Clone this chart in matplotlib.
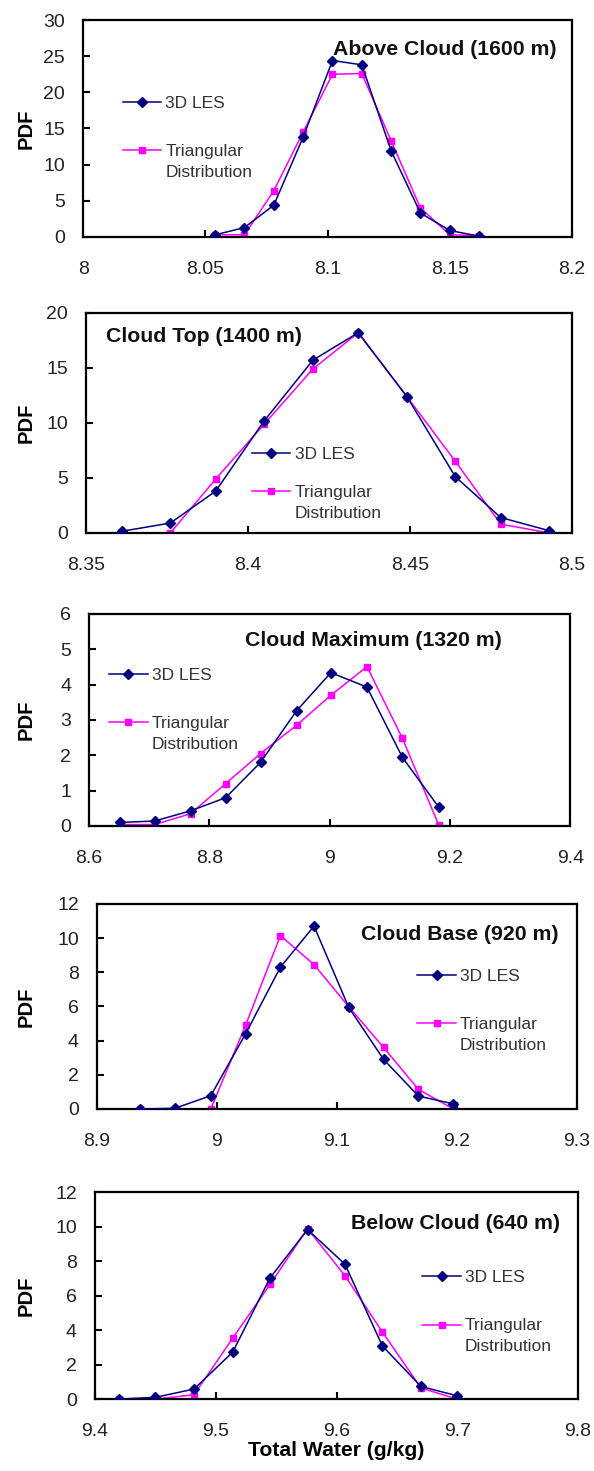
import matplotlib
matplotlib.use("Agg")
import matplotlib.pyplot as plt
from matplotlib.legend_handler import HandlerLine2D

plt.rcParams['font.family'] = ['Liberation Sans', 'DejaVu Sans']

# ---------------- data ----------------
titles = ["Above Cloud (1600 m)", "Cloud Top (1400 m)", "Cloud Maximum (1320 m)",
          "Cloud Base (920 m)", "Below Cloud (640 m)"]

x_above = [8.054, 8.066, 8.078, 8.090, 8.102, 8.114, 8.126, 8.138, 8.150, 8.162]
les_above = [0.3, 1.3, 4.4, 13.8, 24.4, 23.8, 11.9, 3.3, 0.9, 0.1]
tri_above = [0.3, 0.3, 6.4, 14.5, 22.5, 22.6, 13.3, 4.0, 0.3, 0.2]

x_top = [8.361, 8.376, 8.390, 8.405, 8.420, 8.434, 8.449, 8.464, 8.478, 8.493]
les_top = [0.15, 0.9, 3.8, 10.2, 15.7, 18.2, 12.4, 5.1, 1.4, 0.2]
tri_top = [0.0, 0.0, 4.9, 9.9, 14.9, 18.2, 12.4, 6.5, 0.8, 0.0]

x_max = [8.652, 8.709, 8.769, 8.827, 8.885, 8.945, 9.002, 9.062, 9.121, 9.181]
les_max = [0.10, 0.14, 0.43, 0.80, 1.80, 3.26, 4.34, 3.93, 1.94, 0.54]
tri_max = [0.04, 0.04, 0.35, 1.20, 2.05, 2.85, 3.70, 4.51, 2.48, 0.04]

x_base = [8.936, 8.965, 8.995, 9.024, 9.053, 9.081, 9.110, 9.139, 9.168, 9.197]
les_base = [0.0, 0.04, 0.78, 4.4, 8.3, 10.7, 5.94, 2.9, 0.76, 0.3]
tri_base = [0.0, 0.0, 0.0, 4.9, 10.15, 8.45, 5.98, 3.6, 1.15, 0.0]

x_below = [9.420, 9.450, 9.482, 9.514, 9.545, 9.576, 9.607, 9.638, 9.670, 9.700]
les_below = [0.0, 0.1, 0.58, 2.72, 7.03, 9.83, 7.82, 3.08, 0.73, 0.19]
tri_below = [0.0, 0.0, 0.25, 3.53, 6.65, 9.88, 7.15, 3.89, 0.64, 0.0]

xlims = [(8.0, 8.2), (8.35, 8.5), (8.6, 9.4), (8.9, 9.3), (9.4, 9.8)]
xticks = [[8.0, 8.05, 8.1, 8.15, 8.2],
          [8.35, 8.4, 8.45, 8.5],
          [8.6, 8.8, 9.0, 9.2, 9.4],
          [8.9, 9.0, 9.1, 9.2, 9.3],
          [9.4, 9.5, 9.6, 9.7, 9.8]]
xticklabels = [["8", "8.05", "8.1", "8.15", "8.2"],
               ["8.35", "8.4", "8.45", "8.5"],
               ["8.6", "8.8", "9", "9.2", "9.4"],
               ["8.9", "9", "9.1", "9.2", "9.3"],
               ["9.4", "9.5", "9.6", "9.7", "9.8"]]
ylims = [(0, 30), (0, 20), (0, 6), (0, 12), (0, 12)]
yticks = [list(range(0, 31, 5)), list(range(0, 21, 5)), list(range(0, 7, 1)),
          list(range(0, 13, 2)), list(range(0, 13, 2))]

xs = [x_above, x_top, x_max, x_base, x_below]
les = [les_above, les_top, les_max, les_base, les_below]
tri = [tri_above, tri_top, tri_max, tri_base, tri_below]

# ---------------- layout (figure fractions) ----------------
axes_rects = [
    (0.140, 0.8389, 0.823, 0.1475),
    (0.145, 0.6377, 0.818, 0.1496),
    (0.150, 0.4385, 0.810, 0.1441),
    (0.163, 0.2461, 0.808, 0.1394),
    (0.160, 0.0489, 0.813, 0.1407),
]
title_pos = [(0.969, 0.862, 'right'), (0.04, 0.891, 'left'), (0.59, 0.873, 'center'),
             (0.962, 0.849, 'right'), (0.962, 0.85, 'right')]
legend_pos = [(0.081, 0.652, 1.9), (0.342, 0.392, 1.35), (0.042, 0.745, 1.9),
              (0.668, 0.682, 1.9), (0.678, 0.622, 1.9)]

LES_COLOR = '#000080'
TRI_COLOR = '#ff00ff'


class HandlerFirstLine(HandlerLine2D):
    """Place the legend handle level with the first line of a two-line label."""
    def __init__(self, shift, **kw):
        super().__init__(**kw)
        self.shift = shift

    def create_artists(self, legend, orig_handle, xdescent, ydescent,
                       width, height, fontsize, trans):
        return super().create_artists(legend, orig_handle, xdescent,
                                      ydescent - 2 * self.shift, width, height,
                                      fontsize, trans)


fig = plt.figure(figsize=(5.94, 14.71), dpi=100)

for i in range(5):
    ax = fig.add_axes(axes_rects[i])
    ax.plot(xs[i], les[i], color=LES_COLOR, marker='D', markersize=5, lw=1.1,
            label='3D LES', zorder=3)
    l_tri, = ax.plot(xs[i], tri[i], color=TRI_COLOR, marker='s', markersize=5, lw=1.1,
                     label='Triangular\nDistribution', zorder=2)
    ax.set_xlim(*xlims[i])
    ax.set_ylim(*ylims[i])
    ax.set_xticks(xticks[i])
    ax.set_xticklabels(xticklabels[i])
    ax.set_yticks(yticks[i])
    ax.tick_params(axis='both', direction='in', length=5, width=1.5,
                   labelsize=14, colors='black', labelcolor='#222222')
    ax.tick_params(axis='x', pad=17, top=False)
    ax.tick_params(axis='y', pad=13, right=False)
    for sp in ax.spines.values():
        sp.set_linewidth(1.6)
        sp.set_color('black')
    ax.set_ylabel('PDF', fontsize=14.5, fontweight='bold')
    ax.yaxis.set_label_coords((36 - axes_rects[i][0] * 594) / (axes_rects[i][2] * 594), 0.5)
    tx, ty, ha = title_pos[i]
    ax.text(tx, ty, titles[i], transform=ax.transAxes, ha=ha, va='center',
            fontsize=15.3, fontweight='bold', color='#111111')
    lx, ly, lsp = legend_pos[i]
    leg = ax.legend(loc='upper left', bbox_to_anchor=(lx, ly), frameon=False,
                    fontsize=12.5, handlelength=2.2, handletextpad=0.25,
                    borderpad=0, borderaxespad=0, labelspacing=lsp,
                    labelcolor='#333333',
                    handler_map={l_tri: HandlerFirstLine(shift=8.5)})
    for t in leg.get_texts():
        t.set_linespacing(1.5)
    if i == 4:
        ax.set_xlabel('Total Water (g/kg)', fontsize=15.2, fontweight='bold', labelpad=1)

fig.savefig('out.png', dpi=100, facecolor='white')
